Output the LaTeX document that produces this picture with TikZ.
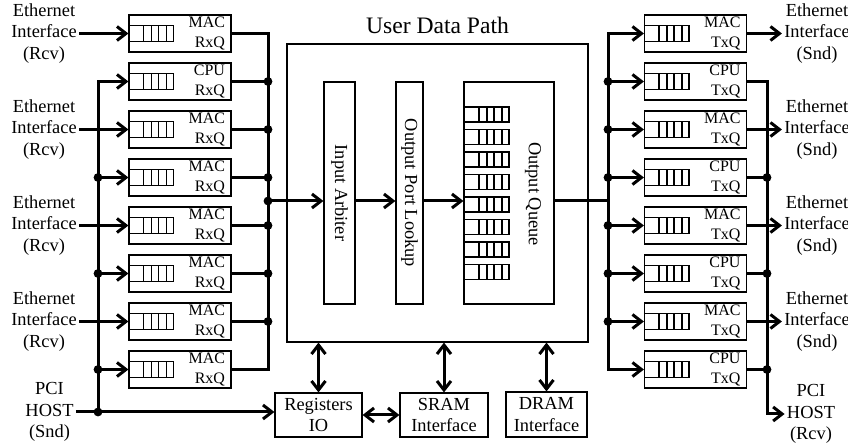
\documentclass[tikz,border=0pt]{standalone}
\usepackage{fontspec}
\setmainfont{Liberation Serif}
\usepackage{graphicx}
\usetikzlibrary{arrows.meta}

\tikzset{
  >={Straight Barb[length=4.5pt,width=7pt]},
  thinline/.style={line width=0.6pt},
  bus/.style={line width=1.5pt},
  box/.style={draw,thinline,align=center,inner sep=1pt,font=\fontsize{9.2}{10.8}\selectfont},
  qbox/.style={draw,thinline,minimum width=51pt,minimum height=18.5pt,text width=45pt,
    align=right,inner xsep=3pt,inner ysep=0.5pt,font=\fontsize{8}{9.6}\selectfont},
  iface/.style={align=center,inner sep=1pt,font=\fontsize{9.2}{10.8}\selectfont},
}
% a small fifo drawn from a left point, with half height #2
\newcommand{\fifo}[2]{%
  \draw[thinline] (#1) ++(0,-#2) -- ++(45,0) -- ++(0,2*#2) -- ++(-45,0);
  \foreach \d in {15,23,30,38}{\draw[thinline] (#1) ++(\d,-#2) -- ++(0,2*#2);}
}

\begin{document}
\begin{tikzpicture}[x=0.5pt,y=-0.5pt]
\useasboundingbox (0,0) rectangle (848,448);

% receive and transmit queues
\foreach \i/\kind in {1/MAC,2/CPU,3/MAC,4/MAC,5/MAC,6/MAC,7/MAC,8/MAC}{
  \node[qbox] (rx\i) at (180,{33.5+48*(\i-1)}) {\kind\\RxQ};
  \fifo{rx\i.west}{8}
}
\foreach \i/\kind in {1/MAC,2/CPU,3/MAC,4/CPU,5/MAC,6/CPU,7/MAC,8/CPU}{
  \node[qbox] (tx\i) at (695.5,{33.5+48*(\i-1)}) {\kind\\TxQ};
  \fifo{tx\i.west}{8}
}

% user data path
\node[draw,thinline,minimum width=150.5pt,minimum height=149pt] (udp) at (437.5,193) {};
\node[font=\fontsize{11.8}{14}\selectfont] (udptitle) at (437.5,25) {User Data Path};
\node[box,minimum width=15.5pt,minimum height=111pt] (arb) at (339.5,193) {\rotatebox{-90}{Input Arbiter}};
\node[box,minimum width=13.5pt,minimum height=111pt] (opl) at (409.5,193) {\rotatebox{-90}{Output Port Lookup}};
\node[box,minimum width=45pt,minimum height=111pt] (oq) at (509,193) {};
\node[iface] (oqtext) at (533,194) {\rotatebox{-90}{Output Queue}};
\foreach \j in {0,...,7}{\fifo{464,{114.5+22.5*\j}}{7.5}}

% bottom blocks
\node[box,minimum width=43.5pt,minimum height=22pt] (reg) at (318.5,415) {Registers\\IO};
\node[box,minimum width=44pt,minimum height=22pt] (sram) at (444,415) {SRAM\\Interface};
\node[box,minimum width=40.5pt,minimum height=22.5pt] (dram) at (546.5,414.5) {DRAM\\Interface};

% interfaces
\foreach \i in {1,3,5,7}{
  \node[iface] (ethL\i) at (44,{33.5+48*(\i-1)}) {Ethernet\\Interface\\(Rcv)};
  \draw[bus,->] (ethL\i.east) -- (rx\i.west);
  \node[iface] (ethR\i) at (817,{33.5+48*(\i-1)}) {Ethernet\\Interface\\(Snd)};
  \draw[bus,->] (tx\i.east) -- (ethR\i.west);
}
\node[iface] (hostS) at (49.5,412) {PCI\\HOST\\(Snd)};
\node[iface] (hostR) at (811,414) {PCI\\HOST\\(Rcv)};

\coordinate (jin) at (268,201);
\coordinate (jout) at (608,201);
\coordinate (lbus) at (98,412);
\coordinate (rbus) at (767,414);

% left side busses
\draw[bus,<-] (rx2.west) -| (lbus);
\draw[bus,->] (hostS.east |- lbus) -- (lbus -| reg.west);
\fill (lbus) circle[radius=2.2pt];
\foreach \i in {4,6,8}{
  \draw[bus,->] (rx\i.west -| lbus) -- (rx\i.west);
  \fill (rx\i.west -| lbus) circle[radius=2.2pt];
}
\draw[bus] (rx1.east) -| (jin |- rx8.east) -- (rx8.east);
\foreach \i in {2,...,7}{
  \draw[bus] (rx\i.east) -- (rx\i.east -| jin);
  \fill (rx\i.east -| jin) circle[radius=2.2pt];
}
\fill (jin) circle[radius=2.2pt];

% data path
\draw[bus,->] (jin) -- (jin -| arb.west);
\draw[bus,->] (jin -| arb.east) -- (jin -| opl.west);
\draw[bus,->] (jin -| opl.east) -- (jin -| oq.west);
\draw[bus] (jin -| oq.east) -- (jout);

% right side busses
\draw[bus,<->] (tx1.west) -- (tx1.west -| jout) -- (tx8.west -| jout) -- (tx8.west);
\foreach \i in {2,...,7}{
  \draw[bus,->] (tx\i.west -| jout) -- (tx\i.west);
  \fill (tx\i.west -| jout) circle[radius=2.2pt];
}
\draw[bus,->] (tx2.east) -| (rbus) -- (hostR.west |- rbus);
\foreach \i in {4,6,8}{
  \draw[bus] (tx\i.east) -- (tx\i.east -| rbus);
  \fill (tx\i.east -| rbus) circle[radius=2.2pt];
}

% memory and register access
\draw[bus,<->] (reg.north) -- (reg.north |- udp.south);
\draw[bus,<->] (sram.north) -- (sram.north |- udp.south);
\draw[bus,<->] (dram.north) -- (dram.north |- udp.south);
\draw[bus,<->] (reg.east) -- (sram.west);
\end{tikzpicture}
\end{document}
